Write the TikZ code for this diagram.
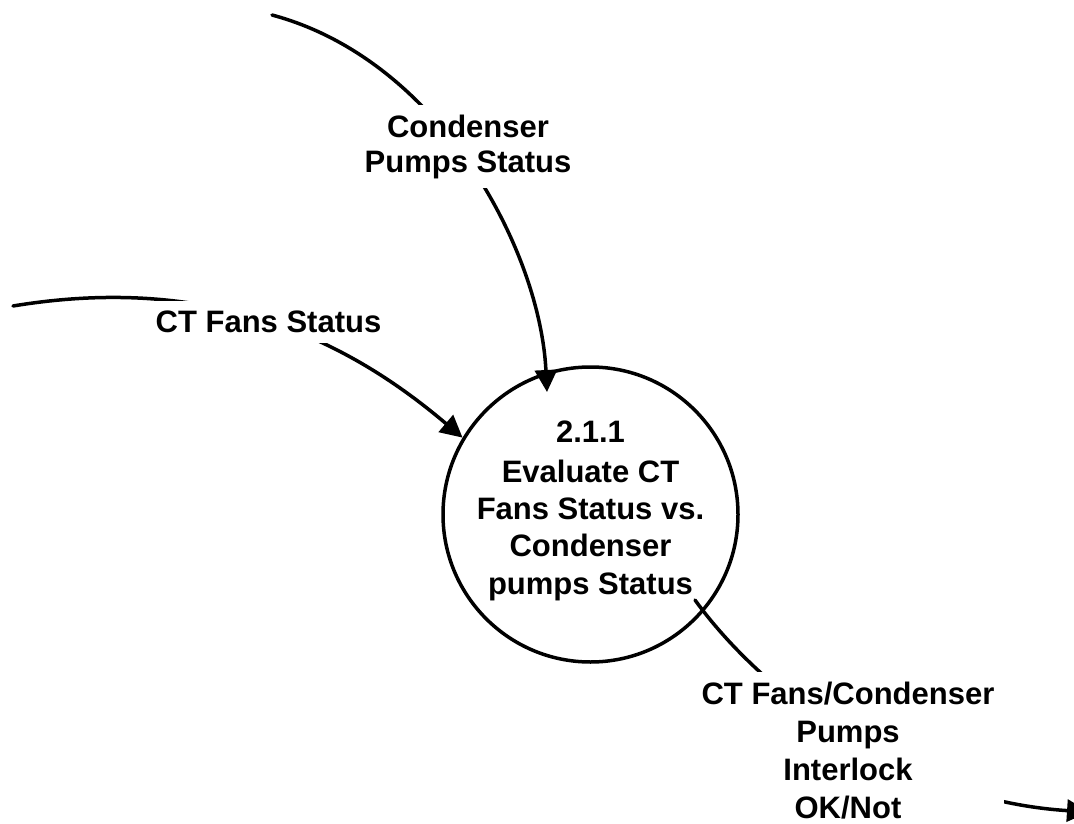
\documentclass[tikz,border=0pt]{standalone}
\usepackage{fontspec}
\setmainfont{Liberation Sans}
\usetikzlibrary{arrows.meta,calc}
\begin{document}
\begin{tikzpicture}[x=1pt,y=-1pt,
  flow/.style={line width=3.5pt, line cap=round, -{Triangle[length=22pt,width=22pt]}},
  flowlabel/.style={fill=white, inner sep=10pt, align=center},
  process/.style={circle, draw, line width=3.5pt, minimum size=295pt, inner sep=0pt, align=center,
    font=\bfseries\fontsize{31}{37.3}\selectfont}]
\useasboundingbox (0,0) rectangle (1074,824);
\node[process] (p) at (590.5,514.5) {2.1.1\\[2.7pt]Evaluate CT\\Fans Status vs.\\Condenser\\pumps Status\rule[-14.5pt]{0pt}{1pt}};
\coordinate (s1) at (272,15);
\coordinate (s2) at (13,306);
\coordinate (e3) at (1089,812);
\draw[flow] (s1) .. controls (440,60) and (540,250) .. ($(p.center)+(-43.5,-122.5)$);
\draw[flow] (s2) .. controls (230,270) and (365,355) .. (p.149);
\draw[flow] ($(p.center)+(104.5,85.5)$) .. controls (760,690) and (900,800) .. (e3);
\node[flowlabel, font=\bfseries\fontsize{31}{35}\selectfont] (l1) at (468,146.5) {Condenser\\Pumps Status};
\node[flowlabel, font=\bfseries\fontsize{31}{37}\selectfont] (l2) at (268.5,322) {CT Fans Status};
\node[flowlabel, font=\bfseries\fontsize{31}{38}\selectfont] (l3) at (848,751) {CT Fans/Condenser\\Pumps\\Interlock\\OK/Not};
\end{tikzpicture}
\end{document}
